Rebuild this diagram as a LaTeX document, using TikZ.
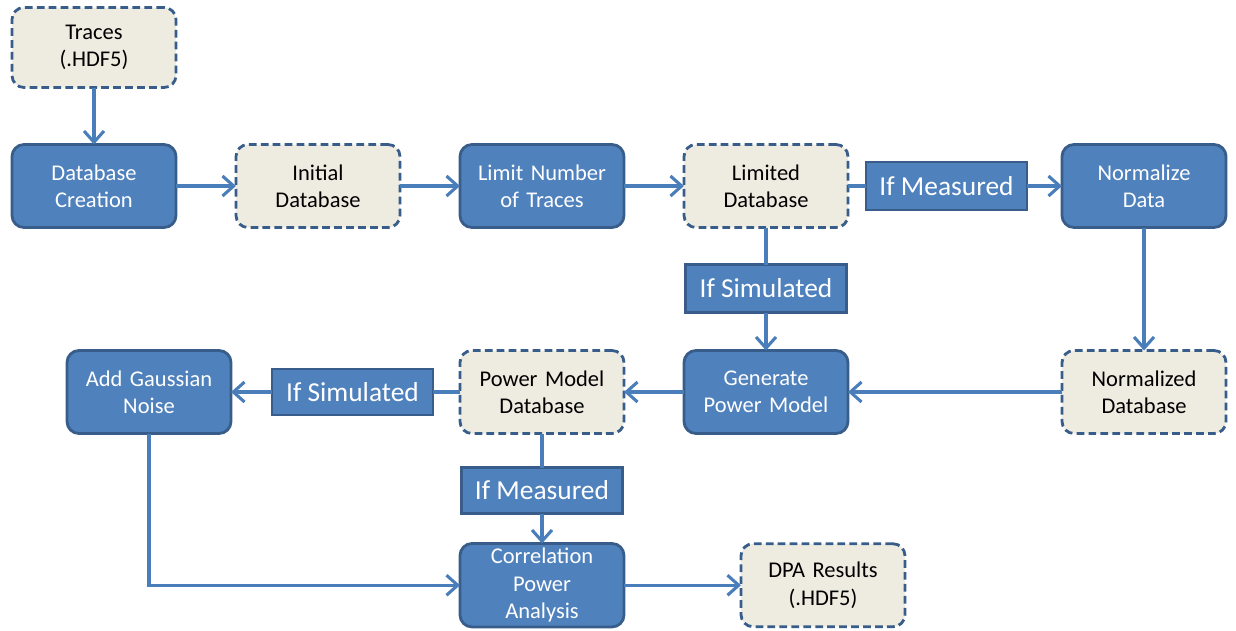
\documentclass[tikz,border=0pt]{standalone}
\usepackage{fontspec}
\setmainfont{Carlito}
\usepackage{xcolor}
\usepackage{tikz}
\usetikzlibrary{positioning, arrows.meta}

\definecolor{boxblue}{HTML}{4F81BD}
\definecolor{edgeblue}{HTML}{385D8A}
\definecolor{linkblue}{HTML}{4A7EBB}
\definecolor{paper}{HTML}{EEECE1}

\begin{document}
\begin{tikzpicture}[
  process/.style={draw=edgeblue, fill=boxblue, line width=2pt, outer sep=0pt, rectangle, rounded corners=0.3cm, text width=3.7cm, align=center, minimum width=4.1cm, minimum height=2.075cm, text=white, font=\fontsize{16}{19.5}\selectfont},
  store/.style={draw=edgeblue, fill=paper, line width=2pt, outer sep=0pt, dash pattern=on 5.5pt off 3pt, rectangle, rounded corners=0.3cm, text width=3.7cm, align=center, minimum width=4.1cm, minimum height=2.075cm, font=\fontsize{16}{19.5}\selectfont},
  cond/.style={draw=edgeblue, fill=boxblue, line width=2pt, outer sep=0pt, rectangle, minimum width=4.025cm, minimum height=1.2cm, text=white, font=\fontsize{19.5}{22}\selectfont},
  flow/.style={-{Straight Barb[length=2.8mm, width=5mm, line width=2.2pt]}, draw=linkblue, line width=2.2pt},
  link/.style={draw=linkblue, line width=2.2pt}
]
\useasboundingbox (0,0) rectangle (30.9,-15.75);

% Top row
\node[process] (DbCreation) at (2.35,-4.65) {Database\\Creation};
\node[store, above=1.425cm of DbCreation, minimum height=2cm] (Traces) {Traces\\(.HDF5)};
\node[store, right=1.5cm of DbCreation] (InitialDb) {Initial\\Database};
\node[process, right=1.5cm of InitialDb] (LimitTraces) {Limit Number\\of Traces};
\node[store, right=1.5cm of LimitTraces] (LimitedDb) {Limited\\Database};
\node[cond, right=0.45cm of LimitedDb] (MeasA) {If Measured};
\node[process, right=5.35cm of LimitedDb] (NormalizeData) {Normalize\\Data};
\node[cond, below=0.925cm of LimitedDb] (SimA) {If Simulated};

% Middle row
\node[store, below=3.075cm of NormalizeData] (NormalizedDb) {Normalized\\Database};
\node[process, below=3.075cm of LimitedDb] (GenModel) {Generate\\Power Model};
\node[store, below=3.075cm of LimitTraces] (ModelDb) {Power Model\\Database};
\node[cond, left=0.675cm of ModelDb, minimum height=1.15cm] (SimB) {If Simulated};
\node[process, left=1.025cm of SimB] (AddNoise) {Add Gaussian\\Noise};
\node[cond, below=0.85cm of ModelDb, minimum height=1.15cm] (MeasB) {If Measured};

% Bottom row
\node[process, below=2.75cm of ModelDb] (CorrAnalysis) {Correlation\\Power\\Analysis};
\node[store, right=2.925cm of CorrAnalysis] (DpaResults) {DPA Results\\(.HDF5)};

% Connectors
\draw[flow] (Traces) -- (DbCreation);
\draw[flow] (DbCreation) -- (InitialDb);
\draw[flow] (InitialDb) -- (LimitTraces);
\draw[flow] (LimitTraces) -- (LimitedDb);
\draw[link] (LimitedDb) -- (MeasA);
\draw[flow] (MeasA) -- (NormalizeData);
\draw[link] (LimitedDb) -- (SimA);
\draw[flow] (SimA) -- (GenModel);
\draw[flow] (NormalizeData) -- (NormalizedDb);
\draw[flow] (NormalizedDb) -- (GenModel);
\draw[flow] (GenModel) -- (ModelDb);
\draw[link] (ModelDb) -- (SimB);
\draw[flow] (SimB) -- (AddNoise);
\draw[link] (ModelDb) -- (MeasB);
\draw[flow] (MeasB) -- (CorrAnalysis);
\draw[flow] (AddNoise) |- (CorrAnalysis);
\draw[flow] (CorrAnalysis) -- (DpaResults);

\end{tikzpicture}
\end{document}
